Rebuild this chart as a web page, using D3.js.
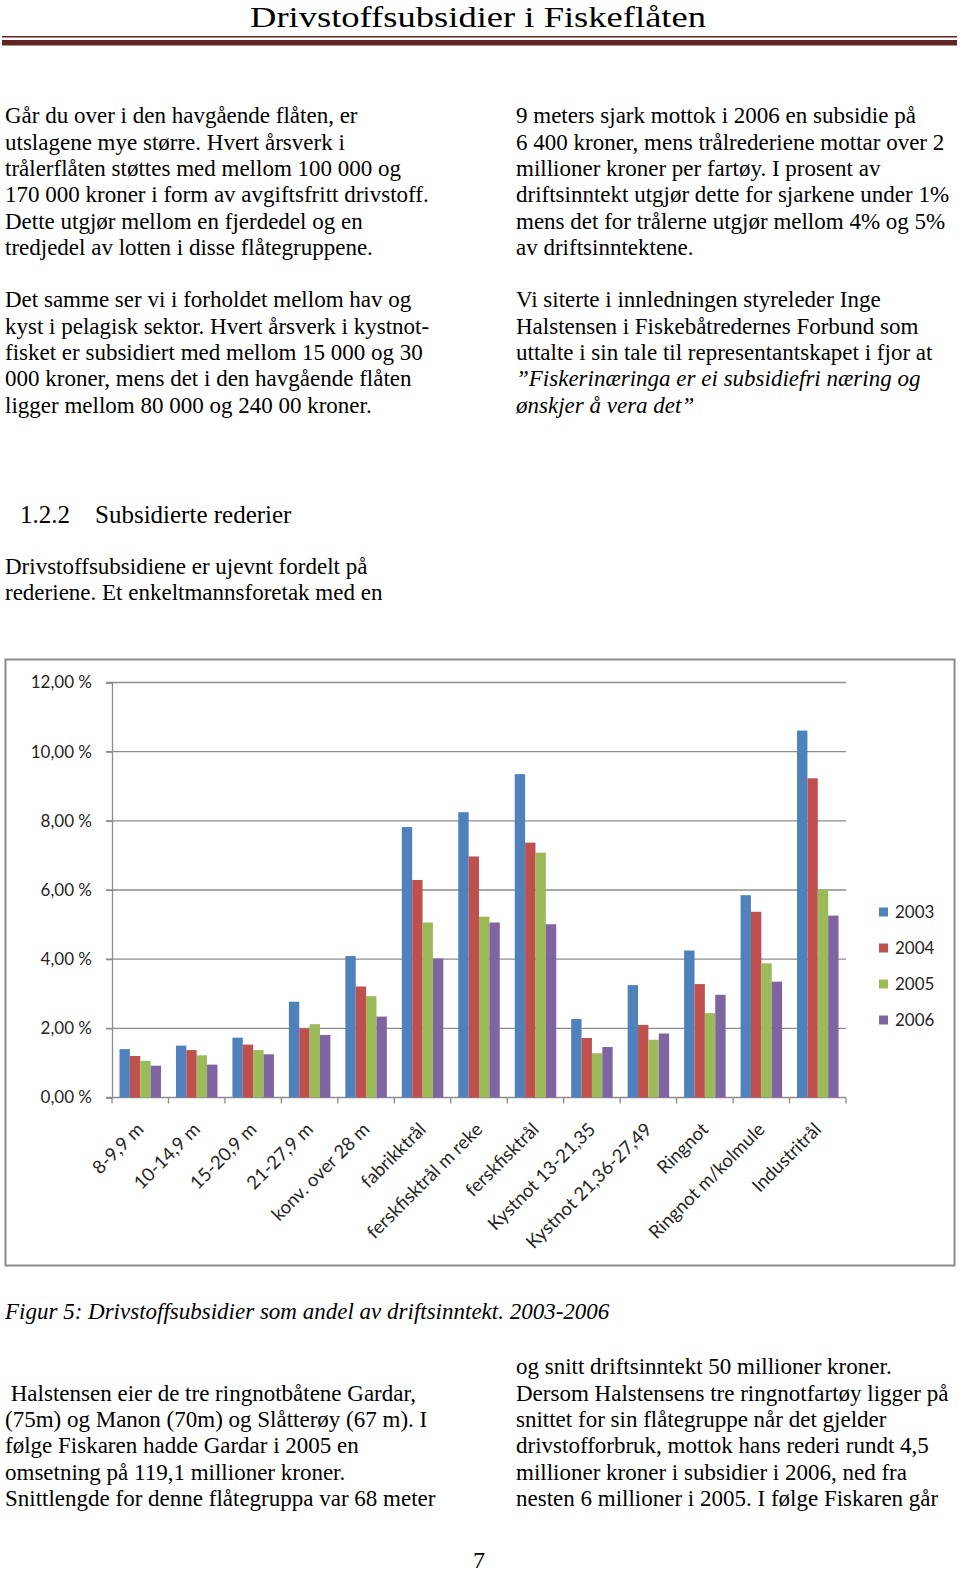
<!DOCTYPE html>
<html>
<head>
<meta charset="utf-8">
<script src="https://cdn.jsdelivr.net/npm/d3@7"></script>
<style>
  body { margin: 0; background: #fff; }
  svg text { fill: #000; }
  .body { font-family: "Liberation Serif", "Times New Roman", serif; font-size: 23px; }
  .ax text { font-family: Lato, "Open Sans", sans-serif; font-size: 17px; fill: #262626; }
  .ax text.xl { font-size: 18.5px; }
</style>
</head>
<body>
<svg id="page" width="960" height="1575"></svg>
<script>
// ---- chart data ----
var categories = ["8-9,9 m", "10-14,9 m", "15-20,9 m", "21-27,9 m", "konv. over 28 m",
  "fabrikktrål", "ferskfisktrål m reke", "ferskfisktrål", "Kystnot 13-21,35",
  "Kystnot 21,36-27,49", "Ringnot", "Ringnot m/kolmule", "Industritrål"];
var years = ["2003", "2004", "2005", "2006"];
var v2003 = [1.40, 1.50, 1.73, 2.77, 4.09, 7.82, 8.25, 9.35, 2.27, 3.25, 4.25, 5.85, 10.61];
var v2004 = [1.20, 1.37, 1.53, 1.99, 3.21, 6.29, 6.97, 7.37, 1.72, 2.10, 3.28, 5.37, 9.23];
var v2005 = [1.06, 1.22, 1.37, 2.12, 2.93, 5.06, 5.23, 7.08, 1.28, 1.67, 2.44, 3.88, 6.01];
var v2006 = [0.92, 0.95, 1.25, 1.81, 2.34, 4.02, 5.06, 5.01, 1.46, 1.85, 2.97, 3.35, 5.26];
var yTicks = [0, 2, 4, 6, 8, 10, 12];
var colors = ["#4f81bd", "#c0504d", "#9bbb59", "#8064a2"];

// ---- page text ----
var leftTop = ["Går du over i den havgående flåten, er", "utslagene mye større. Hvert årsverk i",
  "trålerflåten støttes med mellom 100 000 og", "170 000 kroner i form av avgiftsfritt drivstoff.",
  "Dette utgjør mellom en fjerdedel og en", "tredjedel av lotten i disse flåtegruppene.", "",
  "Det samme ser vi i forholdet mellom hav og", "kyst i pelagisk sektor. Hvert årsverk i kystnot-",
  "fisket er subsidiert med mellom 15 000 og 30", "000 kroner, mens det i den havgående flåten",
  "ligger mellom 80 000 og 240 00 kroner."];
var rightTop = ["9 meters sjark mottok i 2006 en subsidie på", "6 400 kroner, mens trålrederiene mottar over 2",
  "millioner kroner per fartøy. I prosent av", "driftsinntekt utgjør dette for sjarkene under 1%",
  "mens det for trålerne utgjør mellom 4% og 5%", "av driftsinntektene.", "",
  "Vi siterte i innledningen styreleder Inge", "Halstensen i Fiskebåtredernes Forbund som",
  "uttalte i sin tale til representantskapet i fjor at"];
var rightItalic = ["”Fiskerinæringa er ei subsidiefri næring og", "ønskjer å vera det”"];
var leftBottom = [" Halstensen eier de tre ringnotbåtene Gardar,", "(75m) og Manon (70m) og Slåtterøy (67 m). I",
  "følge Fiskaren hadde Gardar i 2005 en", "omsetning på 119,1 millioner kroner.",
  "Snittlengde for denne flåtegruppa var 68 meter"];
var rightBottom = ["og snitt driftsinntekt 50 millioner kroner.", "Dersom Halstensens tre ringnotfartøy ligger på",
  "snittet for sin flåtegruppe når det gjelder", "drivstofforbruk, mottok hans rederi rundt 4,5",
  "millioner kroner i subsidier i 2006, ned fra", "nesten 6 millioner i 2005. I følge Fiskaren går"];

var svg = d3.select("#page");
var lh = 26.3;

// header
svg.append("text").attr("x", 478).attr("y", 27).attr("text-anchor", "middle")
  .attr("textLength", 456).attr("lengthAdjust", "spacingAndGlyphs")
  .style("font-family", "Liberation Serif, serif").style("font-size", "30px")
  .text("Drivstoffsubsidier i Fiskeflåten");
svg.append("rect").attr("x", 2).attr("y", 36).attr("width", 955).attr("height", 1.5).attr("fill", "#622423");
svg.append("rect").attr("x", 2).attr("y", 40).attr("width", 955).attr("height", 5.5).attr("fill", "#622423");

function lines(arr, x, y0, italic) {
  svg.append("g").attr("class", "body").selectAll("text")
    .data(arr).enter().append("text")
    .attr("xml:space", "preserve")
    .attr("x", x).attr("y", function(d, i) {return y0 + i * lh;})
    .style("font-style", italic ? "italic" : null)
    .text(function(d) {return d;});
}
lines(leftTop, 5, 123.3);
lines(rightTop, 516, 123.3);
lines(rightItalic, 516, 123.3 + 10 * lh, true);

// section heading
svg.append("text").attr("class", "body").attr("x", 20).attr("y", 523).style("font-size", "25px").text("1.2.2");
svg.append("text").attr("class", "body").attr("x", 95).attr("y", 523).style("font-size", "25px").text("Subsidierte rederier");
lines(["Drivstoffsubsidiene er ujevnt fordelt på", "rederiene. Et enkeltmannsforetak med en"], 5, 573.5);

// ---- chart ----
svg.append("rect").attr("x", 5.5).attr("y", 659.5).attr("width", 949).attr("height", 606)
  .attr("fill", "#fff").attr("stroke", "#8a8a8a").attr("stroke-width", 2);

var x0 = d3.scaleBand().domain(categories).range([112, 846]);
var x1 = d3.scaleBand().domain(years).range([7.5, 49]);
var y = d3.scaleLinear().domain([0, 12]).range([1097.5, 682.5]);

var ax = svg.append("g").attr("class", "ax");

// gridlines
ax.selectAll("line.grid").data(yTicks.slice(1)).enter().append("line")
  .attr("x1", 106).attr("x2", 846)
  .attr("y1", function(d) {return y(d);}).attr("y2", function(d) {return y(d);})
  .attr("stroke", "#8c8c8c").attr("stroke-width", 1.3);

// y axis
var yAxis = d3.axisLeft(y).tickValues(yTicks).tickSize(6).tickPadding(14)
  .tickFormat(function(d) {return d3.format(".2f")(d).replace(".", ",") + " %";});
ax.append("g").attr("transform", "translate(112,0)").call(yAxis);

// x axis with ticks at category boundaries
var bounds = categories.map(function(c) {return x0(c);}).concat([846]);
ax.append("line").attr("x1", 106).attr("x2", 846).attr("y1", y(0)).attr("y2", y(0))
  .attr("stroke", "#8c8c8c").attr("stroke-width", 1.3);
ax.selectAll("line.xt").data(bounds).enter().append("line")
  .attr("x1", function(d) {return d;}).attr("x2", function(d) {return d;})
  .attr("y1", y(0)).attr("y2", y(0) + 6).attr("stroke", "#8c8c8c").attr("stroke-width", 1.3);

ax.selectAll("path.domain").attr("stroke", "#8c8c8c").attr("stroke-width", 1.3);
ax.selectAll(".tick line").attr("stroke", "#8c8c8c").attr("stroke-width", 1.3);

// bars
var series = [v2003, v2004, v2005, v2006];
var groups = svg.append("g").selectAll("g").data(categories).enter().append("g")
  .attr("transform", function(c) {return "translate(" + x0(c) + ",0)";});
groups.selectAll("rect")
  .data(function(c, i) {return years.map(function(yr, k) {return {yr: yr, v: series[k][i], k: k};});})
  .enter().append("rect")
  .attr("x", function(d) {return x1(d.yr);})
  .attr("width", x1.bandwidth())
  .attr("y", function(d) {return y(d.v);})
  .attr("height", function(d) {return y(0) - y(d.v);})
  .attr("fill", function(d) {return colors[d.k];});

// x labels
ax.selectAll("text.xl").data(categories).enter().append("text")
  .attr("class", "xl")
  .attr("text-anchor", "end")
  .attr("transform", function(c) {return "translate(" + (x0(c) + x0.bandwidth() / 2) + ",1126) rotate(-45)";})
  .attr("dy", "0.35em")
  .text(function(c) {return c;});

// legend
var leg = ax.selectAll("g.leg").data(years).enter().append("g")
  .attr("transform", function(d, i) {return "translate(879," + (912 + i * 36) + ")";});
leg.append("rect").attr("x", 0).attr("y", -4.5).attr("width", 9).attr("height", 9)
  .attr("fill", function(d, i) {return colors[i];});
leg.append("text").attr("x", 16).attr("dy", "0.35em").text(function(d) {return d;});

// caption
svg.append("text").attr("class", "body").attr("x", 5).attr("y", 1319).style("font-style", "italic")
  .text("Figur 5: Drivstoffsubsidier som andel av driftsinntekt. 2003-2006");

lines(leftBottom, 5, 1400.6);
lines(rightBottom, 516, 1374.3);

svg.append("text").attr("class", "body").attr("x", 479).attr("y", 1568).attr("text-anchor", "middle")
  .style("font-size", "24px").text("7");
</script>
</body>
</html>
